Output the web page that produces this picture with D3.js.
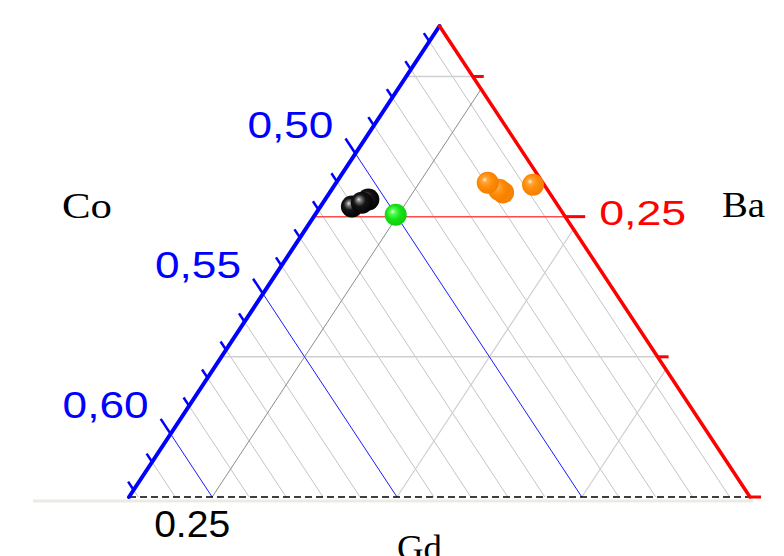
<!DOCTYPE html>
<html>
<head>
<meta charset="utf-8">
<script src="https://cdn.jsdelivr.net/npm/d3@7"></script>
<style>
  body { margin: 0; background: #fff; }
  svg { display: block; }
</style>
</head>
<body>
<div id="chart"></div>
<script>
// ternary sub-triangle: Co bottom-left, Ba top, Gd bottom-right
const BA_MIN = 0.15, GD_MIN = 0.2275, CO_MIN = 0.4545;
const SIDE = 1 - BA_MIN - GD_MIN - CO_MIN;

const coTicks = d3.range(46, 63).map(d => d / 100);
const coMajor = [0.50, 0.55, 0.60];
const coLabels = ["0,50", "0,55", "0,60"];
const baTicks = [0.15, 0.20, 0.25, 0.30];
const baGrid = [0.20, 0.30];
const baRef = 0.25, baRefLabel = "0,25";
const gdGrid = [0.30, 0.35];
const gdRef = 0.25, gdRefLabel = "0.25";
const coGrid = d3.range(46, 63).map(d => d / 100);

// samples [Co, Ba, Gd]
const blackPts = [[0.5047, 0.2561, 0.2392], [0.5104, 0.2536, 0.2360], [0.5070, 0.2550, 0.2380]];
const greenPts = [[0.500, 0.2507, 0.2493]];
const orangePts = [[0.4670, 0.2586, 0.2744], [0.4676, 0.2596, 0.2728], [0.4694, 0.2621, 0.2685], [0.4575, 0.2614, 0.2811]];

const width = 784, height = 556;

const x = d3.scaleLinear()
  .domain([GD_MIN + BA_MIN / 2, GD_MIN + SIDE + BA_MIN / 2])
  .range([129, 750]);
const y = d3.scaleLinear()
  .domain([BA_MIN, BA_MIN + SIDE])
  .range([497, 26]);

const pt = (ba, gd) => [x(gd + ba / 2), y(ba)];

const svg = d3.select("#chart").append("svg")
  .attr("width", width)
  .attr("height", height)
  .style("background", "#fff");

const defs = svg.append("defs");
function sphere(id, stops) {
  const g = defs.append("radialGradient").attr("id", id)
    .attr("cx", "45%").attr("cy", "45%").attr("r", "60%")
    .attr("fx", "35%").attr("fy", "35%");
  stops.forEach(s => g.append("stop").attr("offset", s[0]).attr("stop-color", s[1]));
}
sphere("gBlack", [["0%", "#e0e0e0"], ["18%", "#777"], ["45%", "#151515"], ["100%", "#000"]]);
sphere("gGreen", [["0%", "#f0fff0"], ["20%", "#50ff50"], ["55%", "#16e016"], ["100%", "#0bcc0b"]]);
sphere("gOrange", [["0%", "#fff3e0"], ["20%", "#ffa53a"], ["55%", "#ff8a05"], ["100%", "#f07c00"]]);

const line = d3.line();
const grid = svg.append("g").attr("fill", "none");

// Co lines (parallel to right edge): left edge -> bottom
function coSeg(c) { return [pt(1 - c - GD_MIN, GD_MIN), pt(BA_MIN, 1 - c - BA_MIN)]; }
grid.selectAll(".co").data(coGrid.filter(c => !coMajor.some(m => Math.abs(m - c) < 1e-9)))
  .join("path")
  .attr("d", c => line(coSeg(c)))
  .attr("stroke", "#c4c4c4").attr("stroke-width", 1);

// Gd lines (parallel to left edge): bottom -> right edge
function gdSeg(g) { return [pt(BA_MIN, g), pt(1 - g - CO_MIN, g)]; }
grid.selectAll(".gd").data(gdGrid).join("path")
  .attr("d", g => line(gdSeg(g)))
  .attr("stroke", "#cfcfcf").attr("stroke-width", 1.2);
grid.append("path").attr("d", line(gdSeg(gdRef)))
  .attr("stroke", "#8c8c8c").attr("stroke-width", 1);

// Ba lines: horizontal
function baSeg(b) { return [pt(b, GD_MIN), pt(b, 1 - b - CO_MIN)]; }
grid.selectAll(".ba").data(baGrid).join("path")
  .attr("d", b => line(baSeg(b)))
  .attr("stroke", "#cfcfcf").attr("stroke-width", 1.5);

// blue Co reference lines
grid.selectAll(".coM").data(coMajor).join("path")
  .attr("d", c => line(coSeg(c)))
  .attr("stroke", "#1a1aff").attr("stroke-width", 1);

// red Ba reference line
grid.append("path").attr("d", line(baSeg(baRef)))
  .attr("stroke", "#ff4a4a").attr("stroke-width", 1.5);

// bottom border
const bl = pt(BA_MIN, GD_MIN), br = pt(BA_MIN, GD_MIN + SIDE), apex = pt(BA_MIN + SIDE, GD_MIN);
svg.append("line").attr("x1", 33).attr("x2", br[0] + 3).attr("y1", bl[1] + 4).attr("y2", bl[1] + 4)
  .attr("stroke", "#ebebe3").attr("stroke-width", 3);
svg.append("path").attr("d", line([bl, br]))
  .attr("stroke", "#000").attr("stroke-width", 1.5).attr("stroke-dasharray", "7,4");

// Co axis (left edge) with ticks
svg.append("path").attr("d", line([bl, apex]))
  .attr("stroke", "#0000ff").attr("stroke-width", 4).attr("stroke-linecap", "round");
const coAxis = svg.append("g").attr("stroke", "#0000ff").attr("stroke-width", 2.5);
coTicks.forEach(c => {
  const s = coSeg(c);
  const dx = s[0][0] - s[1][0], dy = s[0][1] - s[1][1];
  const len = Math.hypot(dx, dy);
  const major = coMajor.some(m => Math.abs(m - c) < 1e-9);
  const L = major ? 18 : 10;
  coAxis.append("line")
    .attr("x1", s[0][0]).attr("y1", s[0][1])
    .attr("x2", s[0][0] + dx / len * L).attr("y2", s[0][1] + dy / len * L);
});
svg.selectAll(".coLab").data(coMajor).join("text")
  .attr("x", c => coSeg(c)[0][0] - 22)
  .attr("y", c => coSeg(c)[0][1] - 16)
  .attr("text-anchor", "end")
  .attr("font-family", "Liberation Sans, Arial, sans-serif")
  .attr("font-size", 37)
  .attr("fill", "#0000ff")
  .attr("textLength", 86).attr("lengthAdjust", "spacingAndGlyphs")
  .text((c, i) => coLabels[i]);

// Ba axis (right edge) with ticks
svg.append("path").attr("d", line([br, apex]))
  .attr("stroke", "#ff0000").attr("stroke-width", 3.5).attr("stroke-linecap", "round");
const baAxis = svg.append("g").attr("stroke", "#ff0000").attr("stroke-width", 3);
baTicks.forEach(b => {
  const p = pt(b, 1 - b - CO_MIN);
  baAxis.append("line").attr("x1", p[0]).attr("y1", p[1])
    .attr("x2", p[0] + (b === baRef ? 20 : 11)).attr("y2", p[1]);
});
const baP = pt(baRef, 1 - baRef - CO_MIN);
svg.append("text")
  .attr("x", baP[0] + 34).attr("y", baP[1] + 8)
  .attr("font-family", "Liberation Sans, Arial, sans-serif")
  .attr("font-size", 35).attr("fill", "#ff0000")
  .attr("textLength", 87).attr("lengthAdjust", "spacingAndGlyphs")
  .text(baRefLabel);

// Gd label at bottom
const gdP = pt(BA_MIN, gdRef);
svg.append("text")
  .attr("x", gdP[0] - 20).attr("y", gdP[1] + 40)
  .attr("text-anchor", "middle")
  .attr("font-family", "Liberation Sans, Arial, sans-serif")
  .attr("font-size", 36).attr("fill", "#000")
  .attr("textLength", 76).attr("lengthAdjust", "spacingAndGlyphs")
  .text(gdRefLabel);

// component names
const names = [["Co", 62, 218, 50], ["Ba", 722, 217, 43], ["Gd", 397, 560, 45]];
svg.selectAll(".nm").data(names).join("text")
  .attr("x", d => d[1]).attr("y", d => d[2])
  .attr("font-family", "Liberation Serif, Times New Roman, serif")
  .attr("font-size", 35).attr("fill", "#000")
  .attr("textLength", d => d[3]).attr("lengthAdjust", "spacingAndGlyphs")
  .text(d => d[0]);

// sample points
function drawPts(data, fill) {
  svg.append("g").selectAll("circle").data(data).join("circle")
    .attr("cx", d => pt(d[1], d[2])[0])
    .attr("cy", d => pt(d[1], d[2])[1])
    .attr("r", 11)
    .attr("fill", fill);
}
drawPts(blackPts, "url(#gBlack)");
drawPts(greenPts, "url(#gGreen)");
drawPts(orangePts, "url(#gOrange)");
</script>
</body>
</html>
